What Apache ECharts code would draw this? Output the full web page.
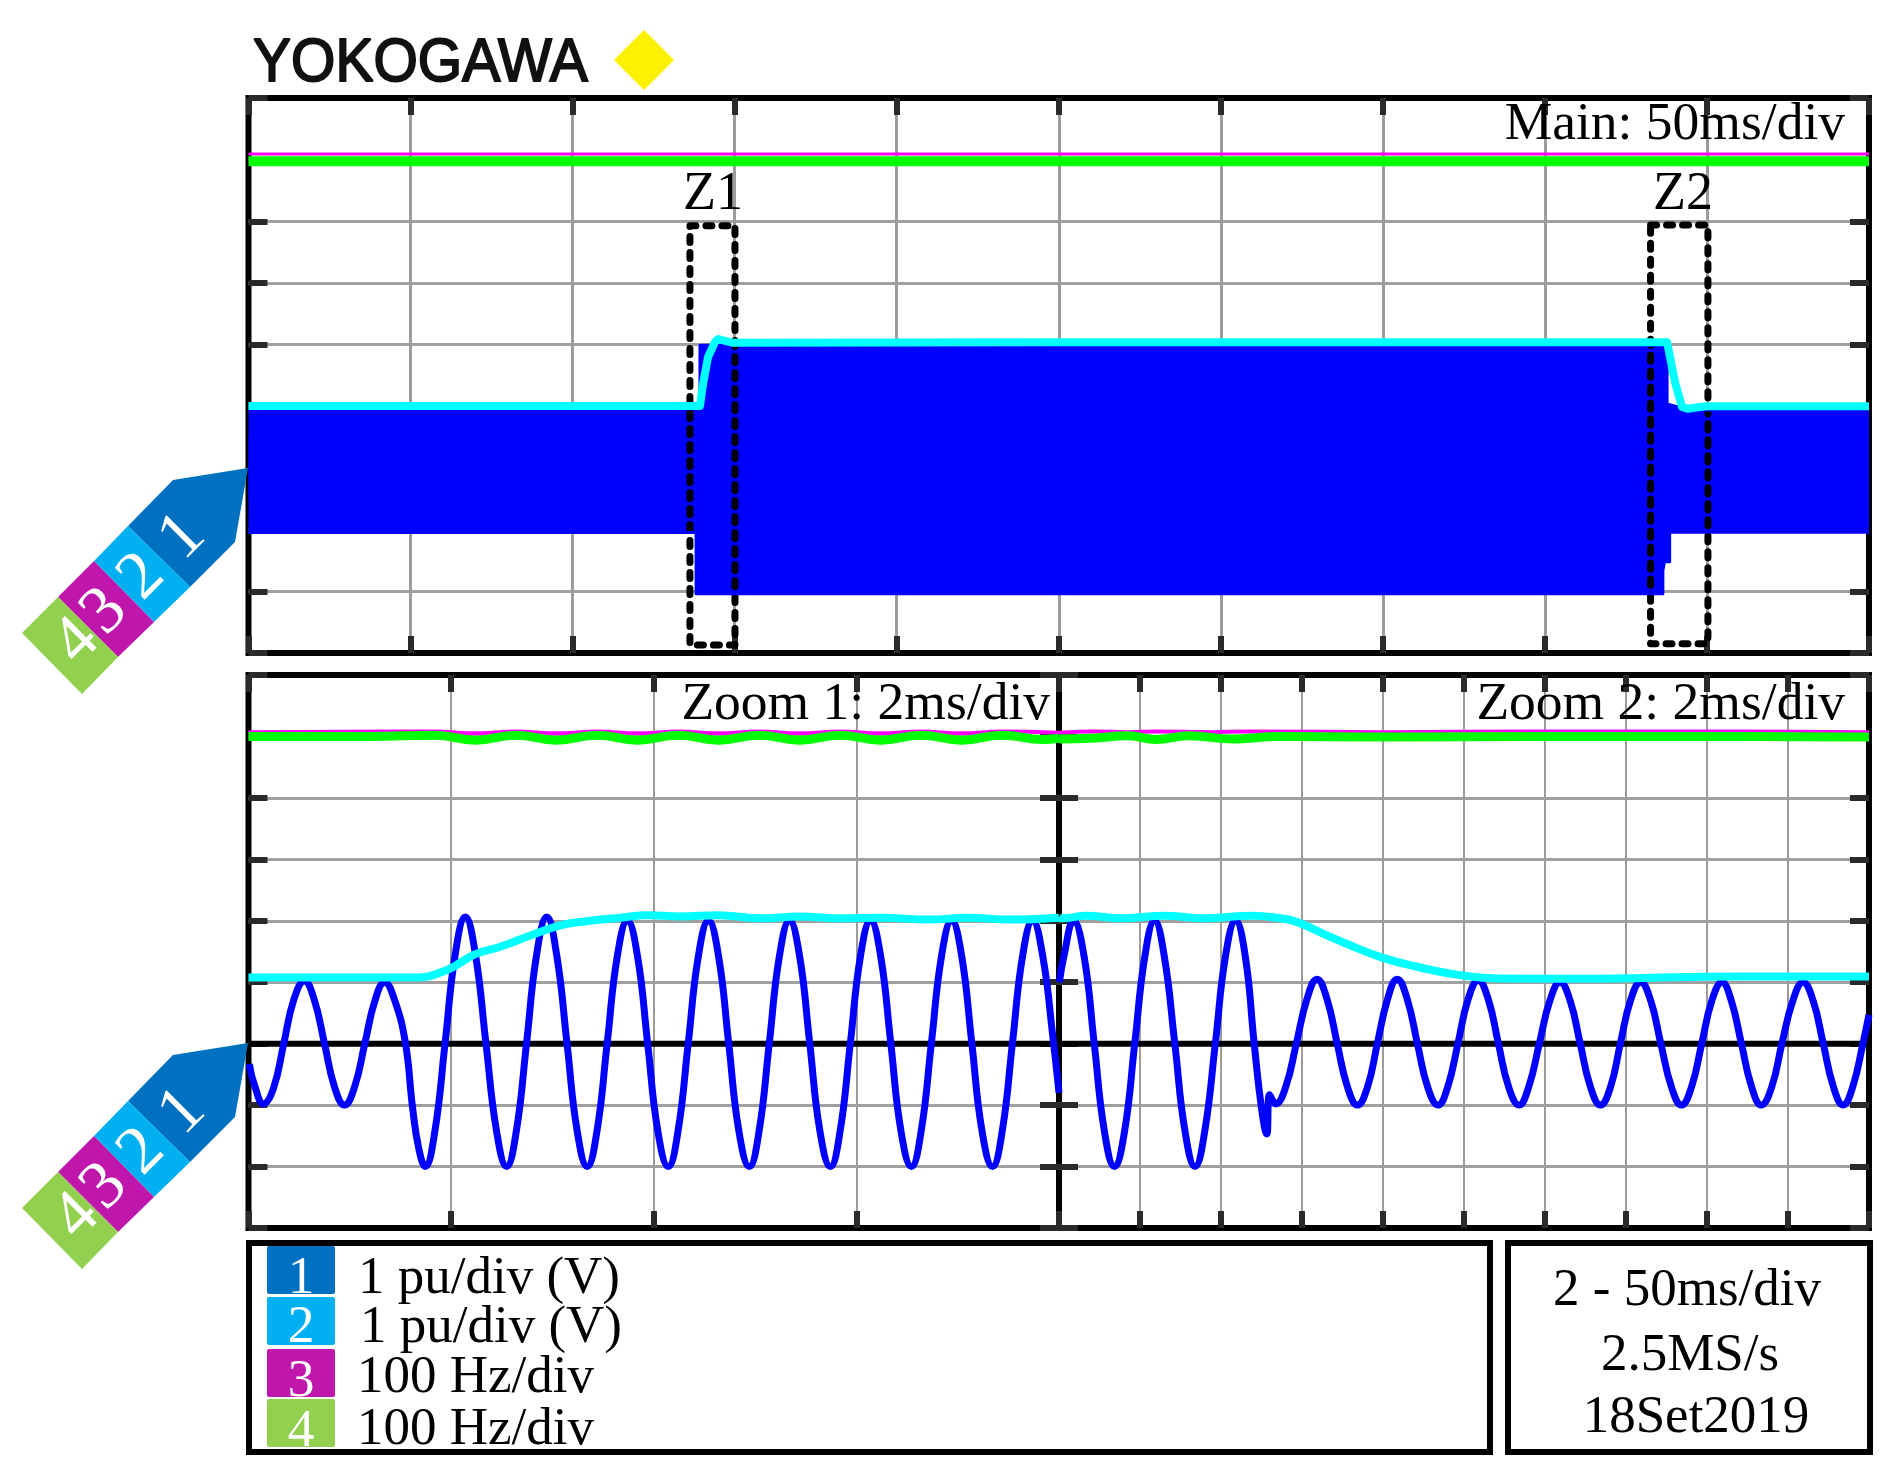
<!DOCTYPE html>
<html>
<head>
<meta charset="utf-8">
<title>Yokogawa scope capture</title>
<script src="https://cdn.jsdelivr.net/npm/echarts@6/dist/echarts.min.js"></script>
<style>
html,body{margin:0;padding:0;background:#fff;}
#scope{width:1891px;height:1480px;}
</style>
</head>
<body>
<div id="scope"></div>
<script>
// main window, time in ms (50ms/div), amplitude in div
var mainTopEnv = [[0,0.957],[139.3,0.957],[139.3,1.99],[437.7,1.99],[437.7,1.04],[444.5,0.94],[500,0.94]];
var mainBottomEnv = [[0,-1.046],[138.1,-1.046],[138.1,-2.04],[436.4,-2.04],[436.4,-1.66],[436.9,-1.66],[436.9,-1.52],[438.5,-1.52],[438.5,-1.04],[500,-1.04]];
var mainVrms = [[0,1.005],[139.3,1.005],[140.3,1.38],[141.8,1.8],[143.9,2.04],[144.9,2.09],[149.5,2.03],[250,2.04],[437.7,2.04],[438.6,1.8],[440.2,1.38],[442.3,0.99],[444.2,0.96],[447.8,0.99],[450,1.0],[500,1.0]];
var mainFreq3 = [[0,5.09],[138,5.09],[250,5.09],[500,5.09]];
var mainFreq4 = [[0,4.975],[138,4.975],[250,4.975],[500,4.975]];
var boxZ1 = [[136.2,3.93],[150.1,3.93],[150.1,-2.87],[136.2,-2.87],[136.2,3.93]];
var boxZ2 = [[432.6,3.94],[450.3,3.94],[450.3,-2.85],[432.6,-2.85],[432.6,3.94]];

// zoom 1
var zoom1Wave = [[0.02,-0.33],[0.15,-0.68],[0.37,-0.98],[0.62,-0.72],[0.87,0],[1.12,0.72],[1.38,1.02],[1.62,0.72],[1.87,0.02],[2.12,-0.7],[2.37,-1],[2.62,-0.7],[2.87,0],[3.12,0.7],[3.36,1],[3.6,0.72],[3.87,0.02],[4.05,-1.05],[4.2,-1.7],[4.36,-2],
    [4.6,-1.42],[4.85,0],[5.1,1.45],[5.35,2.06],[5.6,1.45],[5.86,0],[6.12,-1.42],[6.37,-2],[6.61,-1.42],[6.86,0],[7.11,1.45],[7.36,2.06],[7.61,1.42],[7.86,0],[8.11,-1.42],[8.36,-2],[8.6,-1.42],[8.85,0],[9.1,1.42],[9.35,2],
    [9.6,1.42],[9.85,0],[10.1,-1.42],[10.36,-2],[10.6,-1.42],[10.85,0],[11.1,1.42],[11.35,2],[11.6,1.42],[11.85,0],[12.1,-1.42],[12.36,-2],[12.6,-1.42],[12.85,0],[13.1,1.42],[13.35,2],[13.6,1.42],[13.85,0],[14.1,-1.42],[14.36,-2],
    [14.6,-1.42],[14.85,0],[15.1,1.42],[15.35,2],[15.6,1.42],[15.85,0],[16.1,-1.42],[16.36,-2],[16.6,-1.42],[16.85,0],[17.1,1.42],[17.35,2],[17.6,1.42],[17.85,0],[18.1,-1.42],[18.36,-2],[18.6,-1.42],[18.85,0],[19.1,1.42],[19.35,2],[19.6,1.42],[19.85,0.1],[20,-0.8]];
var zoom1Vrms = [[0,1.075],[4.09,1.075],[4.9,1.2],[5.57,1.45],[6.23,1.58],[7.04,1.78],[7.72,1.93],[8.38,1.995],[9.17,2.05],[9.84,2.09],[10.65,2.07],[11.59,2.09],[12.65,2.04],[13.59,2.07],[14.65,2.04],[15.6,2.05],[16.8,2.02],[17.74,2.05],[18.8,2.02],[20,2.05]];
var zoom1Freq3 = [[0,5.07],[4.6,5.08],[5.6,5.05],[6.6,5.08],[7.6,5.05],[8.6,5.08],[9.6,5.05],[10.6,5.08],[11.6,5.05],[12.6,5.08],[13.6,5.05],[14.6,5.08],[15.6,5.05],[16.6,5.08],[17.6,5.05],[18.6,5.08],[20,5.06]];
var zoom1Freq4 = [[0,5.0],[3,5.0],[4.6,5.02],[5.6,4.94],[6.6,5.02],[7.6,4.94],[8.6,5.02],[9.6,4.94],[10.6,5.02],[11.6,4.94],[12.6,5.02],[13.6,4.94],[14.6,5.02],[15.6,4.94],[16.6,5.02],[17.6,4.94],[18.6,5.02],[19.6,4.95],[20,4.97]];

// zoom 2
var zoom2Wave = [[0.01,1],[0.12,1.42],[0.36,2],[0.62,1.42],[0.87,0],[1.12,-1.42],[1.37,-2],[1.62,-1.42],[1.87,0],[2.12,1.42],[2.36,2],[2.6,1.42],[2.86,0],[3.11,-1.42],[3.36,-2],[3.6,-1.42],[3.86,0],[4.11,1.42],[4.36,2],[4.6,1.42],[4.82,0],[5,-1.05],[5.13,-1.47],[5.2,-0.83],[5.35,-0.98],
    [5.6,-0.7],[5.86,0],[6.12,0.72],[6.37,1.05],[6.62,0.72],[6.87,0],[7.12,-0.7],[7.37,-1],[7.62,-0.7],[7.86,0],[8.11,0.72],[8.35,1.05],[8.6,0.72],[8.85,0],[9.1,-0.7],[9.36,-1],[9.6,-0.7],[9.85,0],[10.1,0.72],[10.35,1.03],[10.6,0.72],[10.85,0],[11.1,-0.7],[11.36,-1],
    [11.6,-0.7],[11.86,0],[12.12,0.7],[12.37,1],[12.62,0.7],[12.87,0],[13.12,-0.7],[13.37,-1],[13.62,-0.7],[13.86,0],[14.11,0.7],[14.36,1],[14.61,0.7],[14.86,0],[15.12,-0.7],[15.37,-1],[15.62,-0.7],[15.87,0],[16.12,0.7],[16.37,1],[16.6,0.7],[16.85,0],[17.1,-0.7],[17.34,-1],[17.6,-0.7],[17.85,0],[18.12,0.7],[18.37,1],[18.62,0.7],[18.87,0],[19.12,-0.7],[19.36,-1],[19.6,-0.7],[19.85,0],[20,0.47]];
var zoom2Vrms = [[0,2.05],[0.07,2.04],[0.67,2.08],[1.53,2.04],[2.62,2.08],[3.56,2.04],[4.77,2.08],[5.36,2.05],[5.83,1.99],[6.49,1.8],[7.16,1.61],[7.98,1.4],[8.91,1.24],[9.85,1.12],[10.91,1.06],[12.27,1.055],[14,1.065],[16,1.09],[20,1.095]];
var zoom2Freq3 = [[0,5.06],[0.9,5.08],[1.7,5.07],[2.4,5.08],[3.8,5.07],[4.6,5.08],[8,5.07],[12,5.08],[16,5.08],[20,5.07]];
var zoom2Freq4 = [[0,4.96],[0.8,4.97],[1.7,5.01],[2.4,4.95],[3.2,5.01],[4.3,4.96],[5.4,5.0],[8,4.99],[12,5.0],[16,5.0],[20,4.99]];
var zeroLine = [[0,0],[20,0]];

// texts
var mainLabel = "Main: 50ms/div";
var zoom1Label = "Zoom 1: 2ms/div";
var zoom2Label = "Zoom 2: 2ms/div";
var brandLabel = "YOKOGAWA";
var channelNames = ["1","2","3","4"];
var channelScales = ["1 pu/div (V)","1 pu/div (V)","100 Hz/div","100 Hz/div"];
var infoLines = ["2 - 50ms/div","2.5MS/s","18Set2019"];
var channelColors = ["#0070C0","#00B0F0","#BF17AB","#92D050"];

var SERIF = "'Liberation Serif','Times New Roman',serif";

function xAxes(gridIndex, max, interval, lineW) {
    var base = {
        type: 'value', gridIndex: gridIndex, min: 0, max: max, interval: interval,
        axisLine: {show: false, onZero: false}, axisLabel: {show: false},
        axisTick: {show: true, inside: true, length: 17, lineStyle: {color: '#2a2a2a', width: 6}}
    };
    var bottom = echarts.util.merge({position: 'bottom', splitLine: {show: true, showMinLine: false, showMaxLine: false, lineStyle: {color: '#9c9c9c', width: lineW}}}, base);
    var top = echarts.util.merge({position: 'top', splitLine: {show: false}}, base);
    return [bottom, top];
}

function yAxes(gridIndex) {
    var base = {
        type: 'value', gridIndex: gridIndex, min: -3, max: 6, interval: 1,
        axisLine: {show: false, onZero: false}, axisLabel: {show: false},
        axisTick: {show: true, inside: true, length: 19, lineStyle: {color: '#2a2a2a', width: 6}}
    };
    var left = echarts.util.merge({position: 'left', splitLine: {show: true, showMinLine: false, showMaxLine: false, lineStyle: {color: '#a0a0a0', width: 3}}}, base);
    var right = echarts.util.merge({position: 'right', splitLine: {show: false}}, base);
    return [left, right];
}

function trace(name, axis, data, color, width, smooth) {
    return {
        name: name, type: 'line', xAxisIndex: axis, yAxisIndex: axis, data: data,
        showSymbol: false, smooth: smooth ? 0.45 : false, silent: true, clip: false,
        lineStyle: {color: color, width: width, cap: 'butt', join: 'round'}
    };
}

function bandEdge(name, data, origin) {
    var s = trace(name, 0, data, '#0000FF', 3, false);
    s.areaStyle = {color: '#0000FF', opacity: 1, origin: origin};
    return s;
}

function dashedBox(name, data) {
    var s = trace(name, 0, data, '#000', 7, false);
    s.lineStyle.type = [6, 10];
    s.lineStyle.cap = 'round';
    return s;
}

function label(text, x, y, align, size) {
    return {
        type: 'text', z: 50, x: x, y: y + 4 - 0.34 * (size || 53.5),
        style: {text: text, font: (size || 53.5) + 'px ' + SERIF, fill: '#000', textAlign: align, textVerticalAlign: 'middle'}
    };
}

function tag(dy) {
    var parts = [
        [[248,1043],[235,1117],[190,1162],[128,1101],[173,1055]],
        [[128,1101],[190,1162],[154,1197],[94,1136]],
        [[94,1136],[154,1197],[118,1232],[58,1172]],
        [[58,1172],[118,1232],[82,1269],[22,1208]]
    ];
    var centers = [[183,1112],[142,1152],[105,1187],[77,1217]];
    var out = [];
    for (var i = 0; i < 4; i++) {
        var pts = [];
        for (var j = 0; j < parts[i].length; j++) {
            pts.push([parts[i][j][0], parts[i][j][1] + dy]);
        }
        out.push({type: 'polygon', z: 60, shape: {points: pts}, style: {fill: channelColors[i]}});
        out.push({
            type: 'text', z: 61, x: centers[i][0], y: centers[i][1] + dy, rotation: Math.PI / 4,
            style: {text: channelNames[i], font: '68px ' + SERIF, fill: '#fff', textAlign: 'center', textVerticalAlign: 'middle'}
        });
    }
    return out;
}

function box(x, y, w, h) {
    return {type: 'rect', z: 40, shape: {x: x, y: y, width: w, height: h}, style: {fill: 'none', stroke: '#000', lineWidth: 6}};
}

var graphics = [
    {
        type: 'text', z: 50, x: 253, y: 64, scaleX: 0.935,
        style: {text: brandLabel, font: '61px "Liberation Sans",Arial,sans-serif', fill: '#111', stroke: '#111', lineWidth: 2, textAlign: 'left', textVerticalAlign: 'middle'}
    },
    {type: 'polygon', z: 50, shape: {points: [[644,30],[674,60],[644,90],[614,60]]}, style: {fill: '#FFF200'}},
    label(mainLabel, 1845, 139, 'right'),
    label("Z1", 713, 209, 'center', 54),
    label("Z2", 1683, 209, 'center', 54),
    label(zoom1Label, 1050, 719, 'right'),
    label(zoom2Label, 1845, 719, 'right'),
    box(249, 1243, 1241, 209),
    box(1508, 1243, 362, 209)
];
graphics = graphics.concat(tag(-575), tag(0));

var swatchTop = [1246, 1297, 1349, 1399];
var swatchH = [48, 48, 48, 48];
var digitBase = [1293, 1342, 1396, 1446];
var scaleBase = [1293, 1342, 1392, 1444];
var scaleLeft = [358, 360, 357, 357];
for (var c = 0; c < 4; c++) {
    graphics.push({type: 'rect', z: 45, shape: {x: 267, y: swatchTop[c], width: 68, height: swatchH[c], r: 2}, style: {fill: channelColors[c]}});
    var d = label(channelNames[c], 301, digitBase[c], 'center');
    d.style.fill = '#fff';
    d.z = 46;
    graphics.push(d);
    graphics.push(label(channelScales[c], scaleLeft[c], scaleBase[c], 'left', 53));
}
graphics.push(label(infoLines[0], 1687, 1305, 'center', 53));
graphics.push(label(infoLines[1], 1690, 1370, 'center', 53));
graphics.push(label(infoLines[2], 1696, 1432, 'center', 53));

var gridBase = {show: true, borderColor: '#000', borderWidth: 6, backgroundColor: 'transparent', containLabel: false};

var option = {
    animation: false,
    backgroundColor: '#fff',
    grid: [
        echarts.util.merge({left: 248.5, top: 98, width: 1620.5, height: 555}, gridBase),
        echarts.util.merge({left: 248.5, top: 675, width: 810.5, height: 553}, gridBase),
        echarts.util.merge({left: 1059, top: 675, width: 810, height: 553}, gridBase)
    ],
    // axes come in pairs so the tick stubs show on all four sides
    xAxis: xAxes(0, 500, 50, 3).concat(xAxes(1, 20, 5, 2), xAxes(2, 20, 2, 2)),
    yAxis: yAxes(0).concat(yAxes(1), yAxes(2)),
    series: [
        dashedBox('Z1', boxZ1),
        dashedBox('Z2', boxZ2),
        bandEdge('CH1 top', mainTopEnv, -0.5),
        bandEdge('CH1 bottom', mainBottomEnv, 0.5),
        trace('CH3', 0, mainFreq3, '#FF00FF', 3, false),
        trace('CH4', 0, mainFreq4, '#00FF00', 10, false),
        trace('CH2', 0, mainVrms, '#00FFFF', 8, false),

        trace('zero 1', 2, zeroLine, '#000', 6, false),
        trace('CH3', 2, zoom1Freq3, '#FF00FF', 4, true),
        trace('CH4', 2, zoom1Freq4, '#00FF00', 9, true),
        trace('CH1', 2, zoom1Wave, '#0000FF', 7, true),
        trace('CH2', 2, zoom1Vrms, '#00FFFF', 8, true),

        trace('zero 2', 4, zeroLine, '#000', 6, false),
        trace('CH3', 4, zoom2Freq3, '#FF00FF', 4, true),
        trace('CH4', 4, zoom2Freq4, '#00FF00', 9, true),
        trace('CH1', 4, zoom2Wave, '#0000FF', 7, true),
        trace('CH2', 4, zoom2Vrms, '#00FFFF', 8, true)
    ],
    graphic: {elements: graphics}
};

var myChart = echarts.init(document.getElementById('scope'));
myChart.setOption(option);
</script>
</body>
</html>
